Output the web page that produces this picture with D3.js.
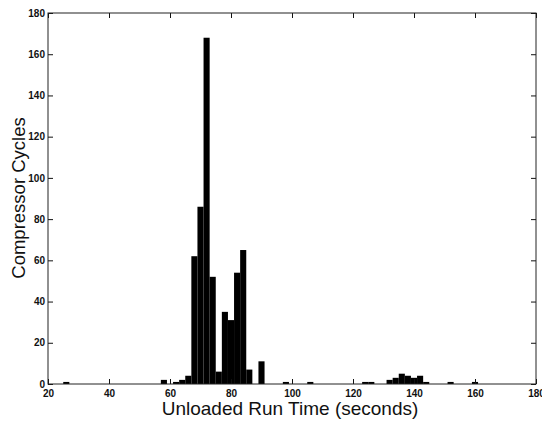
<!DOCTYPE html>
<html>
<head>
<meta charset="utf-8">
<script src="https://cdn.jsdelivr.net/npm/d3@7"></script>
<style>
  html, body { margin: 0; padding: 0; background: #fff; }
  svg { display: block; }
  .tick text { font-family: "Liberation Sans", Arial, sans-serif; font-size: 10px; font-weight: bold; fill: #111; }
  .axis-title { font-family: "Liberation Sans", Arial, sans-serif; fill: #111; }
</style>
</head>
<body>
<svg id="chart" width="542" height="424"></svg>
<script>
// Histogram of unloaded run times, 2-second bins (bin centres in seconds)
const binCenters = [26, 58, 62, 64, 66, 68, 70, 72, 74, 76, 78, 80, 82, 84, 86, 90,
                    98, 106, 124, 126, 132, 134, 136, 138, 140, 142, 144, 152, 160];
const counts     = [1, 2, 1, 2, 4, 62, 86, 168, 52, 6, 35, 31, 54, 65, 7, 11,
                    1, 1, 1, 1, 2, 3, 5, 4, 3, 4, 1, 1, 1];
const binWidth = 2;

const xTicks = [20, 40, 60, 80, 100, 120, 140, 160, 180];
const yTicks = [0, 20, 40, 60, 80, 100, 120, 140, 160, 180];

const xLabel = "Unloaded Run Time (seconds)";
const yLabel = "Compressor Cycles";

const bins = binCenters.map((c, i) => ({ center: c, count: counts[i] }));

const margin = { left: 48, right: 6, top: 13, bottom: 40 };
const W = 542, H = 424;
const iw = W - margin.left - margin.right;
const ih = H - margin.top - margin.bottom;

const svg = d3.select("#chart");
const g = svg.append("g").attr("transform", `translate(${margin.left},${margin.top})`);

const x = d3.scaleLinear().domain([20, 180]).range([0, iw]);
const y = d3.scaleLinear().domain([0, 180]).range([ih, 0]);

// bars
g.append("g").selectAll("rect").data(bins).join("rect")
  .attr("x", d => x(d.center - binWidth / 2))
  .attr("width", d => x(d.center + binWidth / 2) - x(d.center - binWidth / 2))
  .attr("y", d => y(d.count))
  .attr("height", d => y(0) - y(d.count))
  .attr("fill", "#000");

// axes with inward ticks on all four sides
const tickLen = 5;
const styleAxis = sel => {
  sel.select(".domain").remove();
  sel.selectAll(".tick line").attr("stroke", "#111").attr("stroke-width", 1);
};

g.append("g").attr("transform", `translate(0,${ih})`)
  .call(d3.axisBottom(x).tickValues(xTicks).tickSizeInner(-tickLen).tickSizeOuter(0).tickPadding(6))
  .call(styleAxis);
g.append("g")
  .call(d3.axisTop(x).tickValues(xTicks).tickSizeInner(-tickLen).tickSizeOuter(0).tickFormat(""))
  .call(styleAxis);
g.append("g")
  .call(d3.axisLeft(y).tickValues(yTicks).tickSizeInner(-tickLen).tickSizeOuter(0).tickPadding(3))
  .call(styleAxis);
g.append("g").attr("transform", `translate(${iw},0)`)
  .call(d3.axisRight(y).tickValues(yTicks).tickSizeInner(-tickLen).tickSizeOuter(0).tickFormat(""))
  .call(styleAxis);

// frame
g.append("rect")
  .attr("x", 0).attr("y", 0).attr("width", iw).attr("height", ih)
  .attr("fill", "none").attr("stroke", "#222").attr("stroke-width", 1);

// axis titles
svg.append("text").attr("class", "axis-title")
  .style("font-size", "19px")
  .attr("x", 290).attr("y", H - 9)
  .attr("text-anchor", "middle").text(xLabel);
svg.append("text").attr("class", "axis-title")
  .style("font-size", "18.5px")
  .attr("transform", `translate(25,198) rotate(-90)`)
  .attr("text-anchor", "middle").text(yLabel);
</script>
</body>
</html>
